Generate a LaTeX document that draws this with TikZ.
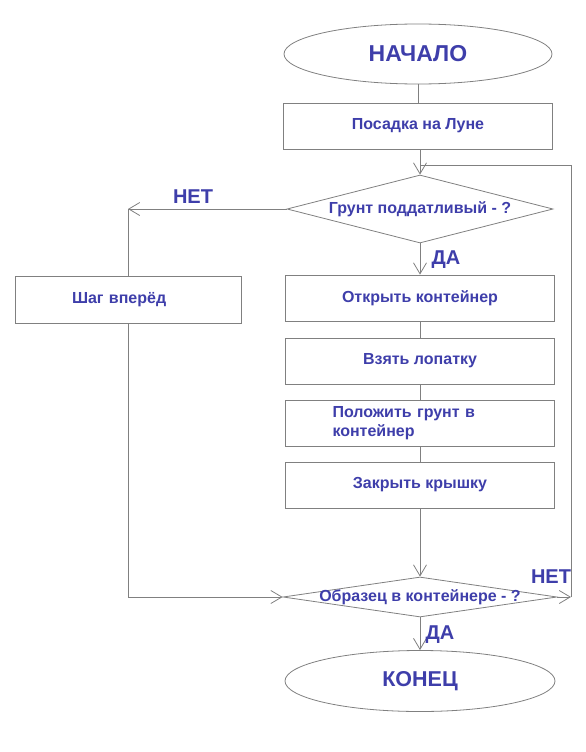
\documentclass[tikz,border=0pt]{standalone}
\usepackage{fontspec}
\setmainfont{Liberation Sans}
\usepackage{tikz}
\usetikzlibrary{shapes.geometric,arrows.meta,positioning}
\definecolor{linegray}{RGB}{128,128,128}
\definecolor{textblue}{RGB}{62,62,170}
\tikzstyle{process}=[draw=linegray,rectangle,minimum width=269pt,minimum height=46pt,inner sep=0pt,font=\fontsize{16}{19}\selectfont\bfseries,text=textblue]
\tikzstyle{terminal}=[draw=linegray,ellipse,minimum width=268pt,minimum height=60pt,inner sep=0pt,font=\fontsize{23}{27}\selectfont\bfseries,text=textblue]

\begin{document}
\begin{tikzpicture}[x=1pt,y=-1pt,line width=0.8pt,>={Straight Barb[length=11pt,width=13pt]}]
\tikzstyle{decision}=[draw=linegray,diamond,inner sep=0pt,label distance=0pt]
\tikzstyle{answer}=[text=textblue,font=\fontsize{20}{24}\selectfont\bfseries,inner sep=0pt]
\tikzstyle{qtext}=[text=textblue,font=\fontsize{16}{19}\selectfont\bfseries]
\useasboundingbox (0,0) rectangle (586,752);
\draw (418, 54) node [terminal] (start) {НАЧАЛО};
\draw (418, 126) node [process] (land) {Посадка на Луне};
\draw (420, 209) node [decision,minimum width=266pt,minimum height=68pt,label={[qtext]center:Грунт поддатливый - ?}] (soil) {};
\draw (128, 300) node [process,minimum width=226pt,minimum height=47pt,text width=112pt,align=left] (stepfwd) {Шаг вперёд};
\draw (420, 298) node [process] (open) {Открыть контейнер};
\draw (420, 361) node [process] (shovel) {Взять лопатку};
\draw (420, 423) node [process,align=left,text width=175pt] (put) {Положить грунт в\\контейнер};
\draw (420, 485) node [process] (close) {Закрыть крышку};
\draw (420, 597) node [decision,minimum width=274pt,minimum height=40pt,label={[qtext]center:Образец в контейнере - ?}] (sample) {};
\draw (420, 681) node [terminal,minimum width=270pt,minimum height=61pt,font=\fontsize{21.5}{26}\selectfont\bfseries] (finish) {КОНЕЦ};
\coordinate (merge) at (420, 165);
\coordinate (nocorner) at (128, 209);
\coordinate (loopcorner) at (571, 597);
% main line
\draw[linegray] (start) -- (land);
\draw[linegray,->] (land.south -| merge) -- (soil.north);
\draw[linegray,->] (soil.south) -- (open);
\draw[linegray] (open) -- (shovel);
\draw[linegray] (shovel) -- (put);
\draw[linegray] (put) -- (close);
\draw[linegray,->] (close) -- (sample.north);
\draw[linegray,->] (sample.south) -- (finish);
% branches
\draw[linegray,->] (soil.west) -- (nocorner);
\draw[linegray] (nocorner) -- (stepfwd);
\draw[linegray,->] (stepfwd.south) |- (sample.west);
\draw[linegray,->] (sample.east) -- (loopcorner);
\draw[linegray] (loopcorner) |- (merge);
\node[answer] (no1) at (193, 197) {НЕТ};
\node[answer] (yes1) at (446, 260) {ДА};
\node[answer] (no2) at (551, 577) {НЕТ};
\node[answer] (yes2) at (440, 635) {ДА};
\end{tikzpicture}
\end{document}
